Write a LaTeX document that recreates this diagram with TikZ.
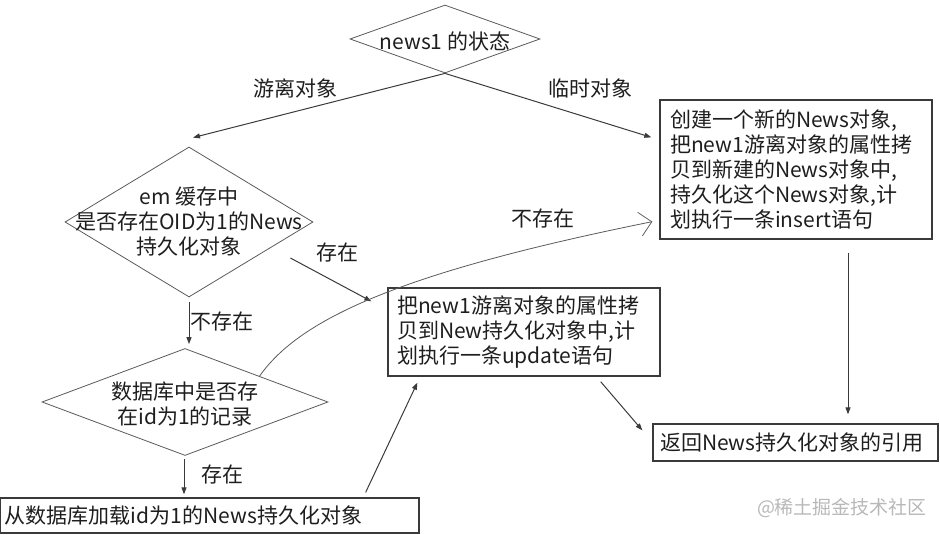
\documentclass[tikz,border=0pt]{standalone}
\usepackage{fontspec}
\setmainfont{Noto Sans CJK SC}
\usetikzlibrary{arrows.meta, shapes.geometric, calc}
\definecolor{ink}{HTML}{1E1E1E}
\definecolor{edge}{HTML}{3A3A3A}
\definecolor{dline}{HTML}{5A5A5A}
\definecolor{wmgray}{HTML}{B8B8B8}
\tikzset{
  dia/.style={diamond, draw=dline, line width=0.8pt, inner sep=0pt},
  txt/.style={align=center, inner sep=0pt, text=ink, font=\fontsize{21}{25}\selectfont},
  box/.style={rectangle, draw=edge, line width=1.3pt, align=left, inner ysep=0pt,
              text=ink, font=\fontsize{21}{25}\selectfont},
  lbl/.style={inner sep=0pt, text=ink, font=\fontsize{21}{25}\selectfont},
  fl/.style={-{Triangle[length=7pt, width=5pt]}, line width=1pt, draw=edge},
  cv/.style={-{Straight Barb[length=12pt, width=24pt]}, line width=0.8pt, draw=dline},
}
\begin{document}
\begin{tikzpicture}[x=1pt, y=-1pt]
    \useasboundingbox (0,0) rectangle (940,535);
    % decisions
    \node[dia, minimum width=190pt, minimum height=68pt] (st) at (445,39) {};
    \node[txt] (stt) at (445,41) {news1 的状态};
    \node[dia, minimum width=248pt, minimum height=150pt] (emq) at (189,222) {};
    \node[txt] (emqt) at (189,222) {em 缓存中\\是否存在OID为1的News\\持久化对象};
    \node[dia, minimum width=286pt, minimum height=107pt] (dbq) at (185,402) {};
    \node[txt] (dbqt) at (185,404) {数据库中是否存\\在id为1的记录};
    % actions
    \node[box, text width=252pt, inner xsep=10pt, minimum height=139pt] (ins) at (796,169.5)
      {创建一个新的News对象,\\把new1游离对象的属性拷\\贝到新建的News对象中,\\持久化这个News对象,计\\划执行一条insert语句};
    \node[box, text width=254pt, inner xsep=9pt, minimum height=88pt] (upd) at (524,332)
      {把new1游离对象的属性拷\\贝到New持久化对象中,计\\划执行一条update语句};
    \node[box, text width=409pt, inner xsep=5pt, minimum height=35pt] (ld) at (209.5,515.5)
      {从数据库加载id为1的News持久化对象};
    \node[box, text width=271pt, inner xsep=7pt, minimum height=37pt] (ret) at (795.5,442.5)
      {返回News持久化对象的引用};
    % labels
    \node[lbl] (lfree) at (295,88) {游离对象};
    \node[lbl] (ltemp) at (590,88) {临时对象};
    \node[lbl] (lhit) at (337,253) {存在};
    \node[lbl] (lmiss) at (222,322) {不存在};
    \node[lbl] (lnodb) at (543,219) {不存在};
    \node[lbl] (ldb) at (222,475) {存在};
    \node[lbl, text=wmgray, font=\fontsize{19}{22}\selectfont] (wmark) at (842,508) {@稀土掘金技术社区};
    % flow
    \draw[fl] (st.south) -- ($(emq.north)+(4,-9)$);
    \draw[fl] (st.south) -- ($(ins.north west)+(-8,38)$);
    \draw[fl] ($(emq.east)+(-23,36)$) -- ($(upd.north west)+(-16,14)$);
    \draw[fl] ($(emq.south)+(0,5)$) -- ($(dbq.north)+(4,-4)$);
    \draw[cv] ($(dbq.north)!0.52!(dbq.east)$) .. controls +(40,-57) and +(-253,51) .. ($(ins.south west)+(-7,-18)$);
    \draw[fl] ($(dbq.south)+(-1,3)$) -- ($(ld.north)+(-25.5,-3)$);
    \draw[fl] ($(ld.north east)+(-54,-5)$) -- ($(upd.south west)+(30,6)$);
    \draw[fl] ($(upd.south east)+(-60,5)$) -- ($(ret.north west)+(-10,7)$);
    \draw[fl] ($(ins.south)+(52,13)$) -- ($(ret.north)+(52.5,-9)$);
\end{tikzpicture}
\end{document}
